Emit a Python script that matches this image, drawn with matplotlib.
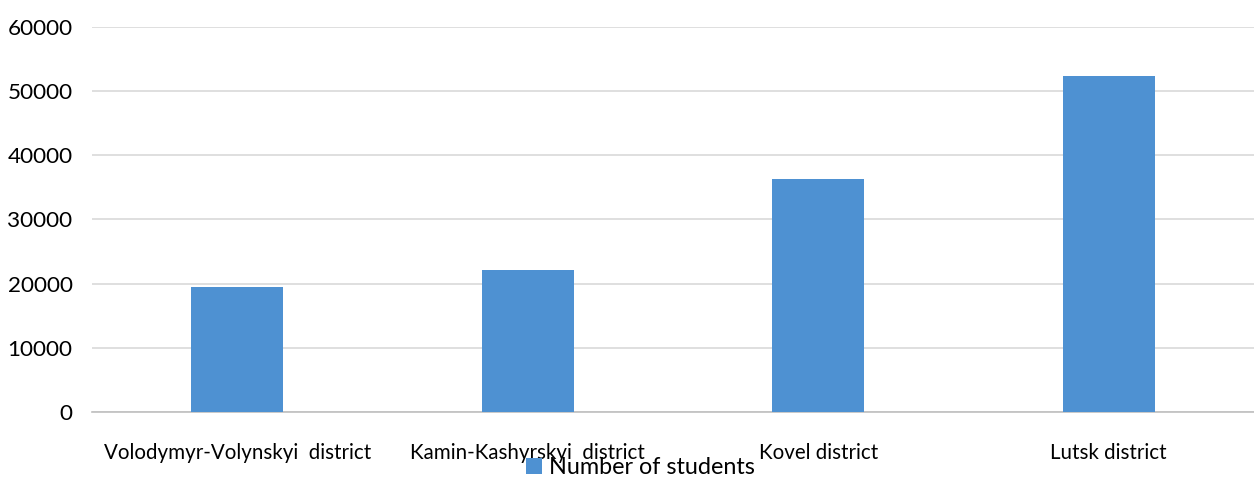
import matplotlib
matplotlib.use("Agg")
import matplotlib.pyplot as plt
from matplotlib.ticker import MultipleLocator

# Number of students by district
districts = ["Volodymyr-Volynskyi  district", "Kamin-Kashyrskyi  district",
             "Kovel district", "Lutsk district"]
students = [19500, 22100, 36300, 52300]
series_name = "Number of students"

bar_color = "#4E91D2"
grid_color = "#D9D9D9"

plt.rcParams["font.family"] = ["Lato", "DejaVu Sans"]

fig = plt.figure(figsize=(12.54, 4.8), dpi=100)
ax = fig.add_axes([0.0734, 0.1417, 0.9266, 0.8027])

x = list(range(len(districts)))
ax.bar(x, students, width=0.317, color=bar_color, label=series_name, zorder=3)

ax.set_xlim(-0.5, len(districts) - 0.5)
ax.set_ylim(0, 60000)
ax.yaxis.set_major_locator(MultipleLocator(10000))
ax.set_xticks(x)
ax.set_xticklabels(districts, fontsize=14.8)
ax.tick_params(axis="x", length=0, pad=22)
ax.tick_params(axis="y", length=0, pad=14, labelsize=16.2)

ax.grid(axis="y", color=grid_color, linewidth=1.2, zorder=0)
for side in ["top", "right", "left"]:
    ax.spines[side].set_visible(False)
ax.spines["bottom"].set_color("#BFBFBF")
ax.spines["bottom"].set_linewidth(1.2)

fig.legend(loc="center", bbox_to_anchor=(0.511, 0.026), frameon=False,
           fontsize=16.8, handlelength=0.69, handleheight=0.72,
           handletextpad=0.3, borderpad=0)

fig.savefig("out.png", dpi=100)
